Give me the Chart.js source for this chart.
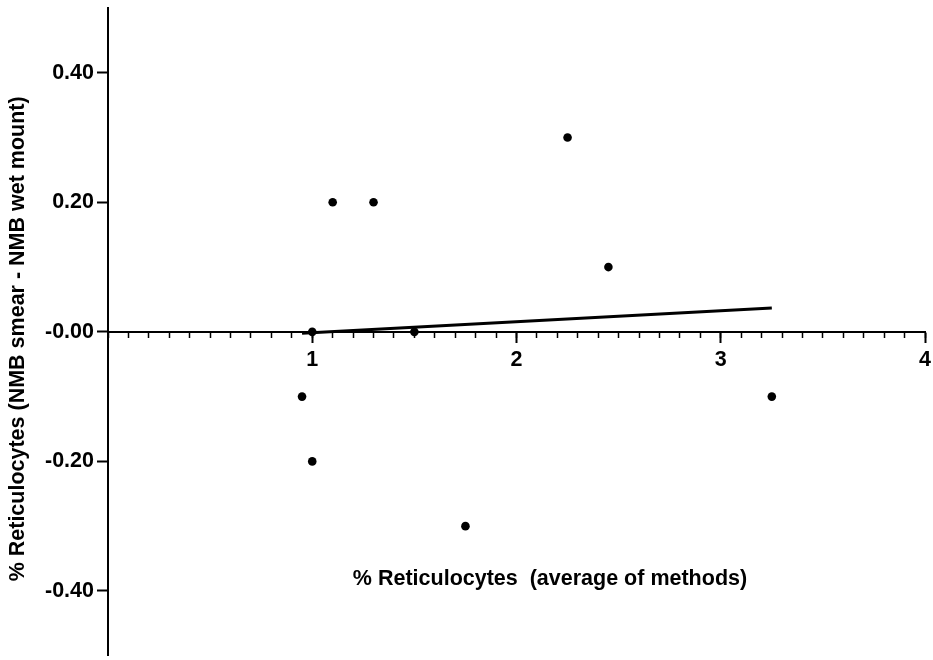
<!DOCTYPE html>
<html>
<head>
<meta charset="utf-8">
<script src="https://cdn.jsdelivr.net/npm/chart.js@4/dist/chart.umd.min.js"></script>
<style>
  html, body { margin: 0; padding: 0; background: #fff; }
  #wrap { width: 933px; height: 660px; }
</style>
</head>
<body>
<div id="wrap"><canvas id="c" width="933" height="660"></canvas></div>
<script>
// Reticulocyte counts: difference between methods against their average
const avgPct  = [0.95, 1.0, 1.0, 1.1, 1.3, 1.5, 1.75, 2.25, 2.45, 3.25];
const diffPct = [-0.1, -0.2, 0.0, 0.2, 0.2, 0.0, -0.3, 0.3, 0.1, -0.1];

// end points of the fitted trend line
const trendX = [0.95, 3.25];
const trendY = [-0.002, 0.037];

const xTickValues = [1, 2, 3, 4];
const xTickLabels = ['1', '2', '3', '4'];
const yTickValues = [-0.4, -0.2, 0, 0.2, 0.4];
const yTickLabels = ['-0.40', '-0.20', '-0.00', '0.20', '0.40'];

const xTitle = '% Reticulocytes  (average of methods)';
const yTitle = '% Reticulocytes (NMB smear - NMB wet mount)';

const FONT = "'Liberation Sans', Arial, Helvetica, sans-serif";
const tickFont = { family: FONT, size: 21.5, weight: 'bold' };
const titleFont = { family: FONT, size: 21.5, weight: 'bold' };

function clearPadding(s) {
  s.paddingLeft = 0; s.paddingRight = 0; s.paddingTop = 0; s.paddingBottom = 0;
}

// nudges the two title-only axes after layout
const titleShift = {
  id: 'titleShift',
  afterLayout(chart) {
    const xs = chart.scales.xLabel;
    xs.left += 33.5;
    xs.right += 33.5;
    const ys = chart.scales.yLabel;
    ys.left = 0;
    ys.right = 0;
    ys.top += 7;
    ys.bottom += 7;
  }
};

const points = avgPct.map((x, i) => ({ x: x, y: diffPct[i] }));
const trend = trendX.map((x, i) => ({ x: x, y: trendY[i] }));

new Chart(document.getElementById('c'), {
  type: 'scatter',
  data: {
    datasets: [
      {
        data: points,
        xAxisID: 'x', yAxisID: 'y',
        pointRadius: 4.3,
        pointBackgroundColor: '#000',
        pointBorderWidth: 0,
        showLine: false
      },
      {
        data: trend,
        xAxisID: 'x', yAxisID: 'y',
        showLine: true,
        borderColor: '#000',
        borderWidth: 3,
        pointRadius: 0,
        fill: false
      }
    ]
  },
  options: {
    responsive: false,
    animation: false,
    devicePixelRatio: 1,
    layout: { padding: { left: 0, right: 8, top: 8, bottom: 2 } },
    plugins: { legend: { display: false }, tooltip: { enabled: false } },
    scales: {
      y: {
        type: 'linear',
        position: 'left',
        min: -0.5, max: 0.5,
        afterBuildTicks: s => { s.ticks = yTickValues.map(v => ({ value: v })); },
        afterFit: s => { s.width = 108; clearPadding(s); },
        ticks: {
          callback: (v, i) => yTickLabels[i],
          font: tickFont, color: '#000', padding: 3
        },
        grid: { drawOnChartArea: false, drawTicks: true, tickLength: 11, tickColor: '#000', tickWidth: 2 },
        border: { display: true, color: '#000', width: 2 }
      },
      yLabel: {
        type: 'linear',
        axis: 'y',
        position: 'left',
        min: -0.5, max: 0.5,
        afterFit: s => { s.width = 0; clearPadding(s); },
        ticks: { display: false },
        grid: { display: false },
        border: { display: false },
        title: {
          display: true, text: yTitle, color: '#000', font: titleFont,
          padding: { top: 5, bottom: 0 }
        }
      },
      x: {
        type: 'linear',
        position: { y: 0 },
        min: 0, max: 4,
        afterBuildTicks: s => { s.ticks = xTickValues.map(v => ({ value: v })); },
        afterFit: s => { s.height = 0; clearPadding(s); },
        ticks: {
          callback: (v, i) => xTickLabels[i],
          font: tickFont, color: '#000', padding: 5,
          maxRotation: 0, autoSkip: false
        },
        grid: { drawOnChartArea: false, drawTicks: true, tickLength: 10, tickColor: '#000', tickWidth: 2 },
        border: { display: true, color: '#000', width: 2 }
      },
      xMinor: {
        type: 'linear',
        axis: 'x',
        position: { y: 0 },
        min: 0, max: 4,
        afterFit: s => { s.height = 0; clearPadding(s); },
        ticks: { display: false, stepSize: 0.1, maxTicksLimit: 100, autoSkip: false },
        grid: { drawOnChartArea: false, drawTicks: true, tickLength: 6, tickColor: '#000', tickWidth: 1.5 },
        border: { display: false }
      },
      xLabel: {
        type: 'linear',
        axis: 'x',
        position: { y: 0 },
        min: 0, max: 4,
        afterFit: s => { s.height = 259.9; clearPadding(s); },
        ticks: { display: false },
        grid: { display: false },
        border: { display: false },
        title: {
          display: true, text: xTitle, color: '#000', font: titleFont,
          padding: { top: 0, bottom: 0 }
        }
      }
    }
  },
  plugins: [titleShift]
});
</script>
</body>
</html>
